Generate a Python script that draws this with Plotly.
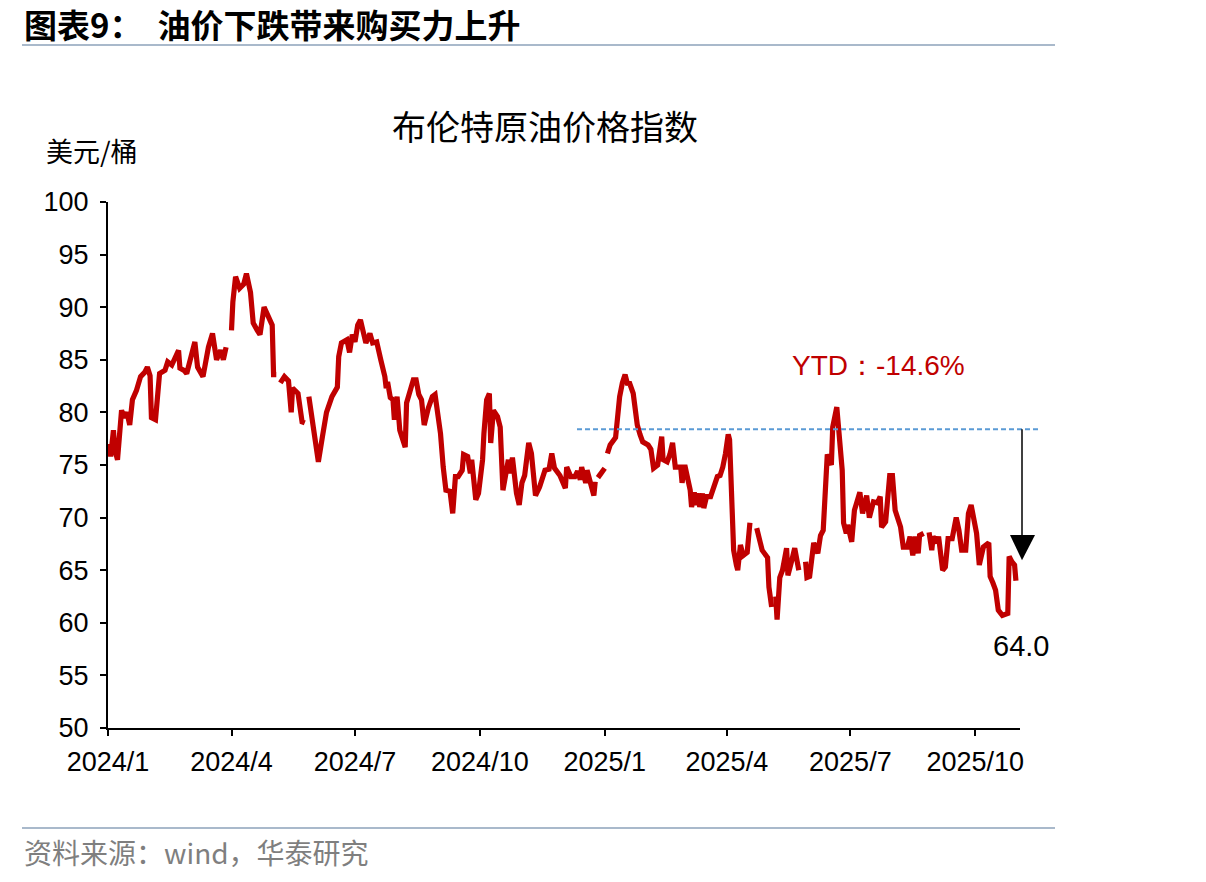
import plotly.graph_objects as go

# ---- data ----
dates = [
    "2024-01-02","2024-01-03","2024-01-05","2024-01-06","2024-01-08","2024-01-11","2024-01-13","2024-01-15",
    "2024-01-17","2024-01-19","2024-01-22","2024-01-25","2024-01-28","2024-01-30","2024-02-01","2024-02-02",
    "2024-02-05","2024-02-08","2024-02-12","2024-02-14","2024-02-17","2024-02-19","2024-02-22","2024-02-23",
    "2024-02-26","2024-02-28","2024-03-02","2024-03-05","2024-03-07","2024-03-11","2024-03-15","2024-03-18",
    "2024-03-21","2024-03-24","2024-03-26","2024-03-28","2024-03-30",
    "2024-04-01","2024-04-02","2024-04-04","2024-04-07","2024-04-10","2024-04-12","2024-04-15","2024-04-17",
    "2024-04-20","2024-04-22","2024-04-25","2024-04-28","2024-05-01","2024-05-02","2024-05-04","2024-05-05",
    "2024-05-07","2024-05-10","2024-05-13","2024-05-15","2024-05-16","2024-05-20","2024-05-23","2024-05-25","2024-05-26",
    "2024-05-28","2024-05-31","2024-06-04","2024-06-07","2024-06-10","2024-06-14","2024-06-18","2024-06-19",
    "2024-06-21","2024-06-25","2024-06-27","2024-06-29","2024-07-01","2024-07-03","2024-07-05","2024-07-09",
    "2024-07-12","2024-07-14","2024-07-17","2024-07-20","2024-07-23","2024-07-24","2024-07-25","2024-07-27",
    "2024-07-29","2024-07-30","2024-08-01","2024-08-03","2024-08-05","2024-08-07","2024-08-08","2024-08-13",
    "2024-08-15","2024-08-17","2024-08-19","2024-08-21","2024-08-24","2024-08-27","2024-08-29","2024-08-31",
    "2024-09-02","2024-09-04","2024-09-06","2024-09-09","2024-09-11","2024-09-13","2024-09-15","2024-09-18",
    "2024-09-19","2024-09-22","2024-09-24","2024-09-25","2024-09-27","2024-09-28","2024-09-30","2024-10-03",
    "2024-10-04","2024-10-06","2024-10-08","2024-10-09","2024-10-11","2024-10-14","2024-10-16","2024-10-17",
    "2024-10-18","2024-10-22","2024-10-23","2024-10-25","2024-10-28","2024-10-30","2024-11-01","2024-11-03",
    "2024-11-06","2024-11-08","2024-11-11","2024-11-14","2024-11-17","2024-11-18","2024-11-21","2024-11-23",
    "2024-11-25","2024-11-29","2024-12-03","2024-12-04","2024-12-07","2024-12-10","2024-12-12","2024-12-14",
    "2024-12-15","2024-12-18","2024-12-19","2024-12-21","2024-12-24","2024-12-25","2024-12-26",
    "2024-12-27","2024-12-29","2025-01-01","2025-01-02",
    "2025-01-03","2025-01-05","2025-01-09","2025-01-10","2025-01-12","2025-01-14","2025-01-16","2025-01-18",
    "2025-01-19","2025-01-22","2025-01-25","2025-01-27","2025-01-29","2025-02-02","2025-02-04","2025-02-06",
    "2025-02-09","2025-02-12","2025-02-13","2025-02-16","2025-02-18","2025-02-20","2025-02-22","2025-02-26",
    "2025-02-27","2025-03-01","2025-03-03","2025-03-05","2025-03-06","2025-03-08","2025-03-09","2025-03-11",
    "2025-03-12","2025-03-14","2025-03-15","2025-03-17","2025-03-20","2025-03-22","2025-03-25","2025-03-27",
    "2025-03-29","2025-03-31","2025-04-02","2025-04-03","2025-04-05","2025-04-06","2025-04-08","2025-04-09",
    "2025-04-11","2025-04-13","2025-04-16","2025-04-18","2025-04-20",
    "2025-04-23","2025-04-27","2025-05-01","2025-05-02","2025-05-04","2025-05-05",
    "2025-05-07","2025-05-08","2025-05-10","2025-05-12","2025-05-15","2025-05-16","2025-05-19","2025-05-21",
    "2025-05-24","2025-05-26",
    "2025-05-29","2025-05-30","2025-06-01","2025-06-04","2025-06-07","2025-06-09","2025-06-11","2025-06-12",
    "2025-06-14","2025-06-17","2025-06-18","2025-06-21","2025-06-22","2025-06-25","2025-06-26","2025-06-28",
    "2025-06-29","2025-07-02","2025-07-04","2025-07-06","2025-07-08","2025-07-10","2025-07-13","2025-07-15",
    "2025-07-18","2025-07-21","2025-07-23","2025-07-24","2025-07-27","2025-07-30","2025-08-01","2025-08-03",
    "2025-08-07","2025-08-09","2025-08-12","2025-08-14","2025-08-16","2025-08-18","2025-08-20","2025-08-21",
    "2025-08-24","2025-08-26",
    "2025-08-28","2025-08-30","2025-08-31","2025-09-03","2025-09-04","2025-09-07","2025-09-09","2025-09-11",
    "2025-09-14","2025-09-17","2025-09-19","2025-09-21","2025-09-24","2025-09-26","2025-09-28","2025-09-30",
    "2025-10-02","2025-10-04","2025-10-07","2025-10-11","2025-10-12","2025-10-14","2025-10-16","2025-10-18",
    "2025-10-21","2025-10-25","2025-10-26","2025-10-28","2025-10-30","2025-10-31",
]
brent = [
    77.0, 75.8, 78.3, 76.5, 75.5, 80.2, 79.5, 80.0,
    78.8, 81.2, 82.1, 83.4, 83.8, 84.3, 83.5, 79.5,
    79.3, 83.7, 84.0, 84.8, 84.5, 85.2, 85.9, 84.2,
    84.0, 83.7, 85.0, 86.7, 84.3, 83.4, 86.2, 87.5,
    85.0, 85.9, 85.0, 86.2, None,
    87.8, 90.5, 92.9, 91.8, 92.2, 93.2, 91.4, 88.5,
    87.8, 87.4, 90.0, 89.0, 88.3, 83.6, 83.6, None,
    82.8, 83.4, 83.0, 80.0, 82.3, 81.8, 79.1, 79.0, None,
    81.5, 78.5, 75.3, 77.7, 80.0, 81.5, 82.4, 85.3,
    86.6, 86.9, 85.7, 87.4, 86.7, 88.3, 88.8, 86.6,
    87.5, 86.6, 86.7, 85.0, 83.4, 82.3, 82.9, 81.4,
    81.2, 79.3, 81.5, 78.3, 77.4, 76.7, 80.9, 83.1,
    83.1, 81.7, 81.2, 78.8, 80.4, 81.5, 81.7, 80.0,
    78.0, 74.8, 72.6, 72.5, 70.4, 73.9, 73.9, 74.5,
    76.0, 75.8, 74.2, 75.5, 72.9, 71.7, 72.3, 75.5,
    78.0, 81.2, 81.8, 77.1, 80.2, 79.6, 78.6, 73.6,
    72.6, 75.5, 74.2, 75.7, 72.3, 71.2, 73.3, 74.0,
    77.1, 76.1, 72.1, 72.9, 73.9, 74.5, 74.6, 76.1,
    74.7, 74.0, 72.8, 74.8, 73.9, 73.9, 74.4, 73.6,
    74.8, 73.3, 74.5, 73.5, 72.1, 73.4, None,
    73.8, 74.2, 74.7, None,
    76.1, 76.9, 77.6, 79.0, 81.5, 82.8, 83.6, 82.6,
    82.9, 81.8, 78.8, 77.9, 77.2, 76.9, 76.5, 74.7,
    75.0, 77.7, 75.5, 75.3, 76.0, 77.1, 74.8, 74.8,
    73.3, 75.0, 73.6, 72.6, 71.0, 72.4, 71.2, 72.3,
    71.0, 72.3, 70.9, 72.0, 72.0, 72.8, 73.9, 74.0,
    74.8, 76.1, 77.9, 77.4, 68.5, 66.9, 65.5, 65.0,
    67.4, 66.4, 66.7, 69.5, None,
    69.0, 66.9, 66.2, 63.4, 61.5, None,
    62.5, 60.3, 64.3, 65.0, 67.1, 64.5, 66.0, 67.1,
    65.0, None,
    65.8, 64.3, 64.4, 67.6, 66.6, 68.3, 68.8, 71.4,
    76.0, 75.0, 78.6, 80.5, 78.6, 74.5, 69.5, 68.5,
    69.3, 67.7, 70.7, 71.5, 72.4, 70.4, 72.1, 70.0,
    71.5, 71.4, 72.0, 69.1, 69.6, 74.0, 74.0, 70.7,
    69.1, 67.2, 67.2, 68.2, 66.4, 68.2, 66.6, 68.3,
    68.5, None,
    68.6, 66.9, 68.2, 67.6, 68.2, 65.0, 65.3, 68.0,
    68.0, 70.0, 68.8, 66.9, 66.9, 70.4, 71.2, 69.8,
    68.5, 65.5, 67.2, 67.6, 64.4, 63.8, 63.1, 61.2,
    60.7, 60.9, 66.3, 65.8, 65.5, 64.0,
]

tick_dates = ["2024-01-01", "2024-04-01", "2024-07-01", "2024-10-01",
              "2025-01-01", "2025-04-01", "2025-07-01", "2025-10-01"]
tick_labels = ["2024/1", "2024/4", "2024/7", "2024/10",
               "2025/1", "2025/4", "2025/7", "2025/10"]

ref_level = 78.4       # dashed reference level
last_value = 64.0
ytd_text = "YTD：-14.6%"

LAT = "Liberation Sans, Arial, sans-serif"
CJK = "Noto Sans CJK SC, sans-serif"
RED = "#C00000"

fig = go.Figure()
fig.add_trace(go.Scatter(
    x=dates, y=brent, mode="lines",
    line=dict(color=RED, width=5.2),
    connectgaps=False, showlegend=False, hoverinfo="skip",
))

W, H = 1206, 882
L, R, T, B = 108, 1020, 202, 728

fig.update_layout(
    width=W, height=H,
    margin=dict(l=L, r=W - R, t=T, b=H - B),
    paper_bgcolor="white", plot_bgcolor="white",
    showlegend=False,
    xaxis=dict(
        type="date", range=["2024-01-01", "2025-11-03"],
        tickvals=tick_dates, ticktext=tick_labels,
        showline=True, linecolor="black", linewidth=2,
        ticks="outside", ticklen=6, tickwidth=2, tickcolor="black",
        showgrid=False, zeroline=False,
        tickfont=dict(family=LAT, size=27, color="black"),
        ticklabelstandoff=3,
    ),
    yaxis=dict(
        range=[50, 100], dtick=5, tick0=50,
        showline=True, linecolor="black", linewidth=2,
        ticks="outside", ticklen=6, tickwidth=2, tickcolor="black",
        showgrid=False, zeroline=False,
        tickfont=dict(family=LAT, size=27, color="black"),
        ticklabelstandoff=6,
    ),
)

def px_x(p):
    return (p - L) / (R - L)

def py(p):
    return (B - p) / (B - T)

# header / footer rules
fig.add_shape(type="line", xref="paper", yref="paper",
              x0=px_x(22), x1=px_x(1055), y0=py(45), y1=py(45),
              line=dict(color="#A9B9CB", width=2))
fig.add_shape(type="line", xref="paper", yref="paper",
              x0=px_x(22), x1=px_x(1055), y0=py(828), y1=py(828),
              line=dict(color="#A9B9CB", width=2))

# dashed reference line
fig.add_shape(type="line", xref="paper", yref="y",
              x0=px_x(577), x1=px_x(1040), y0=ref_level, y1=ref_level,
              line=dict(color="#5B9BD5", width=2, dash="5px,3px"))
# arrow
arrow_x = px_x(1022)
fig.add_shape(type="line", xref="paper", yref="y",
              x0=arrow_x, x1=arrow_x, y0=ref_level, y1=68.3,
              line=dict(color="black", width=1.5))
fig.add_shape(type="path", xref="paper", yref="y",
              path=f"M {px_x(1010)},68.35 L {px_x(1035)},68.35 L {arrow_x},65.95 Z",
              fillcolor="black", line=dict(color="black", width=0))

# texts
fig.add_annotation(xref="paper", yref="paper", x=px_x(22), y=py(24),
                   text="<b>图表9：  油价下跌带来购买力上升</b>", showarrow=False,
                   xanchor="left", yanchor="middle",
                   font=dict(family=CJK, size=33, color="black"))
fig.add_annotation(xref="paper", yref="paper", x=px_x(545), y=py(125),
                   text="布伦特原油价格指数", showarrow=False,
                   xanchor="center", yanchor="middle",
                   font=dict(family=CJK, size=34, color="black"))
fig.add_annotation(xref="paper", yref="paper", x=px_x(44), y=py(150),
                   text="美元/桶", showarrow=False,
                   xanchor="left", yanchor="middle",
                   font=dict(family=CJK, size=27, color="black"))
fig.add_annotation(xref="paper", yref="paper", x=px_x(22), y=py(852),
                   text="资料来源：wind，华泰研究", showarrow=False,
                   xanchor="left", yanchor="middle",
                   font=dict(family=CJK, size=28, color="#7F7F7F"))
fig.add_annotation(xref="paper", yref="paper", x=px_x(878), y=py(365),
                   text=ytd_text, showarrow=False,
                   xanchor="center", yanchor="middle",
                   font=dict(family=LAT, size=28, color=RED))
fig.add_annotation(xref="paper", yref="paper", x=px_x(1021), y=py(646),
                   text=f"{last_value:.1f}", showarrow=False,
                   xanchor="center", yanchor="middle",
                   font=dict(family=LAT, size=29, color="black"))

fig.write_html("out.html")
